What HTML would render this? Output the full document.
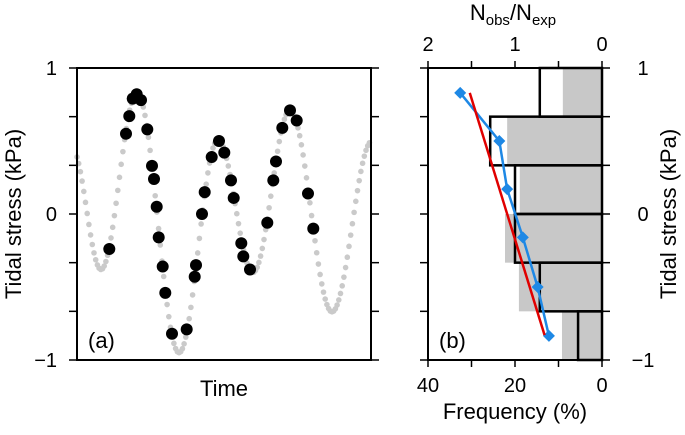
<!DOCTYPE html>
<html><head><meta charset="utf-8"><style>
body{margin:0;background:#fff;}
svg{display:block;font-family:"Liberation Sans",Arial,sans-serif;}
</style></head><body>
<svg id="chart" width="685" height="435" viewBox="0 0 685 435" xmlns="http://www.w3.org/2000/svg">
<g id="panelA"></g>
<g id="panelB"></g>
</svg>
<script>
// ---- Panel (a) data: time (arbitrary units) and stress (kPa)
const curveExtremaT = [-5, 24, 60, 102, 141, 176, 213, 255, 295];
const curveExtremaV = [0.45, -0.38, 0.83, -0.95, 0.51, -0.40, 0.71, -0.67, 0.50];
const eventT = [32.3,49,52.3,55.7,59.7,64,70.3,75,77,79.7,81.7,85.7,88.3,95,109.7,117.7,119,125,127.7,134.7,142,147.3,154,156.7,164.3,166.3,173,190.3,196.3,199,205.3,213,219.7,231,236.3];
const eventV = [-0.24,0.55,0.67,0.79,0.82,0.78,0.58,0.33,0.24,0.05,-0.16,-0.36,-0.54,-0.82,-0.79,-0.43,-0.35,0.00,0.15,0.39,0.50,0.42,0.23,0.11,-0.20,-0.29,-0.38,-0.06,0.23,0.36,0.59,0.71,0.64,0.14,-0.10];
const stressTicks = [-1, 0, 1];
const stressTickLabels = ["\u22121", "0", "1"];
// ---- Panel (b) data
const binLow = [0.6667, 0.3333, 0, -0.3333, -0.6667, -1];
const binHigh = [1, 0.6667, 0.3333, 0, -0.3333, -0.6667];
const freqObserved = [14.3, 25.7, 20, 20, 14.3, 5.5];
const freqExpected = [9, 21.8, 18.9, 22.3, 19.1, 9.2];
const ratioStress = [0.83, 0.5, 0.17, -0.16, -0.5, -0.835];
const ratioValues = [1.63, 1.18, 1.09, 0.91, 0.74, 0.61];
const fitStress = [0.83, -0.83];
const fitRatio = [1.52, 0.66];
const freqTicks = [40, 20, 0];
const ratioTicks = [2, 1, 0];

const NS = "http://www.w3.org/2000/svg";
function mk(parent, tag, attrs, text) {
  const e = document.createElementNS(NS, tag);
  for (const k in attrs) e.setAttribute(k, attrs[k]);
  if (text !== undefined) e.textContent = text;
  parent.appendChild(e);
  return e;
}
const Y0 = 68, Y1 = 360;
const yS = v => Y0 + (1 - v) / 2 * (Y1 - Y0);
const AX0 = 77, AX1 = 371;
const xT = t => AX0 + t;
const BX0 = 428, BX1 = 602;
const xF = f => BX1 - f / 40 * (BX1 - BX0);
const xR = r => BX1 - r / 2 * (BX1 - BX0);

function curveAt(t) {
  for (let i = 0; i < curveExtremaT.length - 1; i++) {
    const a = curveExtremaT[i], b = curveExtremaT[i + 1];
    if (t >= a && t <= b) {
      const f = (t - a) / (b - a);
      const w = (1 - Math.cos(Math.PI * f)) / 2;
      return curveExtremaV[i] + (curveExtremaV[i + 1] - curveExtremaV[i]) * w;
    }
  }
  return curveExtremaV[curveExtremaV.length - 1];
}

const A = document.getElementById('panelA');
const gc = mk(A, 'g', {});


for (let t = 0; t <= 294; t += 1.7) {
  const c = mk(gc, 'circle', {cx: xT(t), cy: yS(curveAt(t)), r: 2.8, fill: '#cacaca'});
  
  
}
const ge = mk(A, 'g', {});


for (let i = 0; i < eventT.length; i++) {
  const c = mk(ge, 'circle', {cx: xT(eventT[i]), cy: yS(eventV[i]), r: 6, fill: '#000'});
  
  
}
const fa = mk(A, 'rect', {x: AX0, y: Y0, width: AX1 - AX0, height: Y1 - Y0, fill: 'none', stroke: '#000', 'stroke-width': 2});


for (let k = 0; k <= 6; k++) {
  const y = yS(-1 + k / 3);
  mk(A, 'line', {x1: AX0 - 8, x2: AX0, y1: y, y2: y, stroke: '#000', 'stroke-width': 1.5});
  mk(A, 'line', {x1: AX1, x2: AX1 + 8, y1: y, y2: y, stroke: '#000', 'stroke-width': 1.5});
}
stressTicks.forEach((v, i) => {
  const t = mk(A, 'text', {x: 57, y: yS(v) + 7, 'font-size': 20, 'text-anchor': 'end'}, stressTickLabels[i]);
  
  
});
let t1 = mk(A, 'text', {x: 0, y: 0, 'font-size': 22, 'text-anchor': 'middle', transform: 'translate(21,214) rotate(-90)'}, 'Tidal stress (kPa)');


let t2 = mk(A, 'text', {x: 224, y: 396, 'font-size': 22, 'text-anchor': 'middle'}, 'Time');


let t3 = mk(A, 'text', {x: 88, y: 348, 'font-size': 22}, '(a)');



const B = document.getElementById('panelB');
for (let i = 0; i < binLow.length; i++) {
  const r = mk(B, 'rect', {x: xF(freqExpected[i]), y: yS(binHigh[i]), width: BX1 - xF(freqExpected[i]), height: yS(binLow[i]) - yS(binHigh[i]), fill: '#c8c8c8'});
  
  
}
for (let i = 0; i < binLow.length; i++) {
  const r = mk(B, 'rect', {x: xF(freqObserved[i]), y: yS(binHigh[i]), width: BX1 - xF(freqObserved[i]), height: yS(binLow[i]) - yS(binHigh[i]), fill: 'none', stroke: '#000', 'stroke-width': 2.5});
  
  
}
let pts = ratioValues.map((r, i) => xR(r) + ',' + yS(ratioStress[i])).join(' ');
const bl = mk(B, 'polyline', {points: pts, fill: 'none', stroke: '#1e88e5', 'stroke-width': 2.5});


ratioValues.forEach((r, i) => {
  const x = xR(r), y = yS(ratioStress[i]);
  const d = mk(B, 'polygon', {points: `${x},${y-6} ${x+6},${y} ${x},${y+6} ${x-6},${y}`, fill: '#1e88e5'});
  
  
});
const rl = mk(B, 'line', {x1: xR(fitRatio[0]), y1: yS(fitStress[0]), x2: xR(fitRatio[1]), y2: yS(fitStress[1]), stroke: '#e00000', 'stroke-width': 2.5});


const fb = mk(B, 'rect', {x: BX0, y: Y0, width: BX1 - BX0, height: Y1 - Y0, fill: 'none', stroke: '#000', 'stroke-width': 2});


for (let k = 0; k <= 6; k++) {
  const y = yS(-1 + k / 3);
  mk(B, 'line', {x1: BX0 - 8, x2: BX0, y1: y, y2: y, stroke: '#000', 'stroke-width': 1.5});
  mk(B, 'line', {x1: BX1, x2: BX1 + 8, y1: y, y2: y, stroke: '#000', 'stroke-width': 1.5});
}
for (let k = 0; k <= 4; k++) {
  const x = xF(k * 10);
  mk(B, 'line', {x1: x, x2: x, y1: Y1, y2: Y1 + 7, stroke: '#000', 'stroke-width': 1.5});
  mk(B, 'line', {x1: x, x2: x, y1: Y0 - 7, y2: Y0, stroke: '#000', 'stroke-width': 1.5});
}
freqTicks.forEach(f => {
  const t = mk(B, 'text', {x: xF(f), y: 392, 'font-size': 20, 'text-anchor': 'middle'}, String(f));
  
  
});
ratioTicks.forEach(r => {
  const t = mk(B, 'text', {x: xR(r), y: 51, 'font-size': 20, 'text-anchor': 'middle'}, String(r));
  
  
});
stressTicks.forEach((v, i) => {
  const t = mk(B, 'text', {x: 643, y: yS(v) + 7, 'font-size': 20, 'text-anchor': 'middle'}, stressTickLabels[i]);
  
  
});
let t4 = mk(B, 'text', {x: 515, y: 419, 'font-size': 22, 'text-anchor': 'middle'}, 'Frequency (%)');


let t5 = mk(B, 'text', {x: 0, y: 0, 'font-size': 22, 'text-anchor': 'middle', transform: 'translate(676,214) rotate(-90)'}, 'Tidal stress (kPa)');


let t6 = mk(B, 'text', {x: 513, y: 20, 'font-size': 22, 'text-anchor': 'middle'});


mk(t6, 'tspan', {}, 'N');
mk(t6, 'tspan', {'font-size': 15, dy: 5}, 'obs');
mk(t6, 'tspan', {dy: -5}, '/N');
mk(t6, 'tspan', {'font-size': 15, dy: 5}, 'exp');
let t7 = mk(B, 'text', {x: 439, y: 348, 'font-size': 22}, '(b)');


</script>
</body></html>
